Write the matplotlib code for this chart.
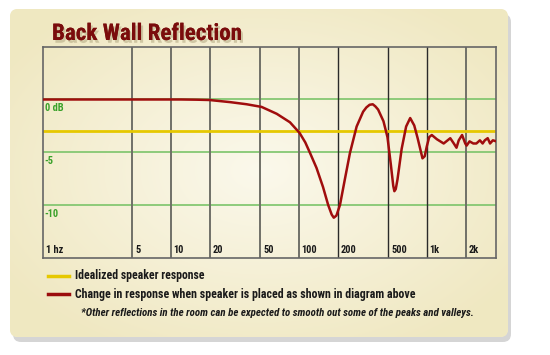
import numpy as np
import matplotlib.pyplot as plt
from matplotlib.patches import FancyBboxPatch
import matplotlib.patheffects as pe
from matplotlib import font_manager

# ---- data ----
freq_hz = [1, 3, 8, 12, 16, 20, 29, 39, 51, 67, 85, 101, 112, 122, 137, 154, 169,
           180, 187, 196, 209, 228, 250, 282, 317, 336, 356, 377, 395, 415, 457,
           491, 522, 545, 556, 570, 588, 634, 687, 739, 795, 845, 922, 960, 995,
           1040, 1090, 1195, 1350, 1520, 1620, 1700, 1770, 1880, 1990, 2040,
           2150, 2300, 2430, 2590, 2720, 2830, 2980, 3110, 3270, 3480]
resp_db = [-0.05, -0.05, -0.05, -0.05, -0.07, -0.1, -0.3, -0.5, -0.75, -1.4, -2.2,
           -3.2, -4.1, -5.1, -6.5, -8.3, -10.0, -10.9, -11.2, -11.0, -10.0, -7.6,
           -5.1, -2.6, -1.2, -0.8, -0.55, -0.5, -0.7, -1.0, -2.1, -3.6, -6.2,
           -8.2, -8.7, -8.5, -7.6, -4.7, -2.6, -1.8, -2.5, -3.7, -5.6, -5.4, -4.5,
           -3.6, -3.4, -3.8, -4.2, -3.7, -4.2, -4.6, -3.9, -3.4, -4.2, -4.4,
           -4.0, -4.2, -4.2, -3.9, -4.2, -3.9, -3.7, -4.2, -3.9, -4.0]
ideal_db = -3.0
x_ticks = [1, 5, 10, 20, 50, 100, 200, 500, 1000, 2000]
x_labels = ["1 hz", "5", "10", "20", "50", "100", "200", "500", "1k", "2k"]
dark_lines = [200, 500, 1000]
y_ticks = [0, -5, -10]
y_labels = ["0 dB", "-5", "-10"]

names = {f.name for f in font_manager.fontManager.ttflist}
narrow = next((n for n in ["Roboto Condensed", "Archivo Narrow", "PT Sans Narrow",
                           "Asap Condensed", "Barlow Condensed"] if n in names), "DejaVu Sans")
plt.rcParams["font.family"] = [narrow, "DejaVu Sans"]

fig = plt.figure(figsize=(5.5, 3.55), dpi=100)
fig.patch.set_facecolor("white")
renderer = fig.canvas.get_renderer()


def fit(t, width_px):
    # scale font size so the text spans the width seen in the reference
    w = t.get_window_extent(renderer).width
    t.set_fontsize(t.get_fontsize() * width_px / w)


# card with shadow and soft gradient
bg = fig.add_axes([0, 0, 1, 1])
bg.set_xlim(0, 550)
bg.set_ylim(355, 0)
bg.axis("off")
shadow = FancyBboxPatch((13, 14), 498, 328, boxstyle="round,pad=0,rounding_size=8",
                        fc="#c4c4c4", ec="none", alpha=0.7, zorder=0)
bg.add_patch(shadow)
card = FancyBboxPatch((10, 9), 498, 328, boxstyle="round,pad=0,rounding_size=8",
                      fc="#f3edcc", ec="none", zorder=1)
bg.add_patch(card)
yy, xx = np.mgrid[0:355, 0:550]
d = np.sqrt(((xx - 260) / 300.0) ** 2 + ((yy - 170) / 200.0) ** 2)
d = np.clip(d, 0, 1)
c0 = np.array([0.985, 0.975, 0.925])
c1 = np.array([0.94, 0.91, 0.76])
img = c0[None, None, :] * (1 - d[..., None]) + c1[None, None, :] * d[..., None]
im = bg.imshow(img, extent=(0, 550, 355, 0), zorder=2, aspect="auto")
im.set_clip_path(card)

title = bg.text(52, 40, "Back Wall Reflection", color="#7a0c0c", fontsize=16,
                fontweight="bold", zorder=5,
                path_effects=[pe.withSimplePatchShadow(offset=(1.5, -2), shadow_rgbFace="#b8ae88", alpha=0.6),
                              pe.Normal()])
fit(title, 190)

# legend
bg.plot([48, 69], [275.5, 275.5], color="#e6c800", lw=2.5, zorder=5)
bg.plot([48, 69], [294, 294], color="#9b0d0d", lw=2.5, zorder=5)
t1 = bg.text(75, 276, "Idealized speaker response", fontsize=9, fontweight="bold",
             va="center", color="#1a1a1a", zorder=5)
fit(t1, 129)
t2 = bg.text(75, 294.5, "Change in response when speaker is placed as shown in diagram above",
             fontsize=9, fontweight="bold", va="center", color="#1a1a1a", zorder=5)
fit(t2, 339)
t3 = bg.text(81, 313, "*Other reflections in the room can be expected to smooth out some of the peaks and valleys.",
             fontsize=7, fontweight="bold", style="italic", va="center", color="#1a1a1a", zorder=5)
fit(t3, 393)

# chart
ax = fig.add_axes([43 / 550, 1 - 258 / 355, 453 / 550, 211 / 355])
ax.patch.set_alpha(0)
ax.set_xscale("log")
ax.set_xlim(1, 3460)
ax.set_ylim(-15, 4.9)
for yt, lab in zip(y_ticks, y_labels):
    ax.axhline(yt, color="#7cc46a", lw=1.2, zorder=1)
    ax.text(1.03, yt - 0.4, lab, color="#3aa12a", fontsize=7.5, fontweight="bold",
            va="top", ha="left")
for xt, lab in zip(x_ticks, x_labels):
    if xt > 1:
        if xt in dark_lines:
            ax.axvline(xt, color="#2a2a2a", lw=1.0, zorder=1)
        else:
            ax.axvline(xt, color="#707068", lw=1.4, zorder=1)
    ax.text(xt * 1.05, -14.75, lab, color="#1a1a1a", fontsize=7.5, fontweight="bold",
            va="bottom", ha="left")
ax.axhline(ideal_db, color="#e6c800", lw=2, zorder=2)
ax.plot(freq_hz, resp_db, color="#a00d0d", lw=1.8, zorder=3)
ax.set_xticks([])
ax.set_yticks([])
ax.minorticks_off()
for s in ax.spines.values():
    s.set_color("#666666")
    s.set_linewidth(1.2)

fig.savefig("out.png", dpi=100)
